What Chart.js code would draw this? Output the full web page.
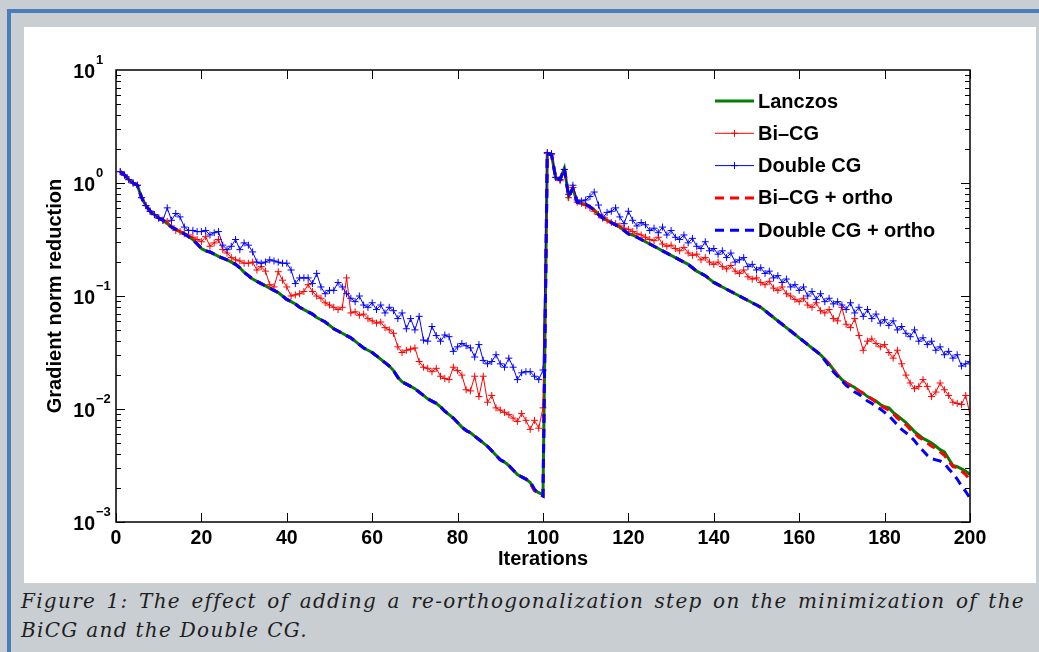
<!DOCTYPE html>
<html>
<head>
<meta charset="utf-8">
<title>Gradient norm reduction</title>
<script src="https://cdn.jsdelivr.net/npm/chart.js@4.4.1/dist/chart.umd.min.js"></script>
<style>
    html, body { margin:0; padding:0; }
    body {
        width:1039px; height:652px; overflow:hidden; position:relative;
        background:#c9ced3;
        font-family:"Liberation Sans", Arial, sans-serif;
    }
    .frame {
        position:absolute; left:7px; top:9px; width:1100px; height:700px;
        border-left:4px solid #4a7ebb; border-top:4px solid #4a7ebb;
    }
    .panel {
        position:absolute; left:24px; top:27px; width:1012px; height:556px;
        background:#fff;
    }
    .caption {
        position:absolute; left:21px; top:587px; width:1004px;
        font-family:"DejaVu Serif", serif; font-style:italic;
        font-size:20px; letter-spacing:1.3px; line-height:29px; color:#1e1e1e;
    }
    .caption .l1 { text-align:justify; text-align-last:justify; white-space:nowrap; }
</style>
</head>
<body>
<div class="frame"></div>
<div class="panel"><canvas id="normChart" width="1012" height="556"></canvas></div>
<div class="caption">
    <div class="l1">Figure 1: The effect of adding a re-orthogonalization step on the minimization of the</div>
    <div>BiCG and the Double CG.</div>
</div>

<script>
/* ==========================
   DATA  (log10 of the gradient norm reduction)
========================== */
const iterations = Array.from({length: 200}, (_, i) => i + 1);
const xTicks = [0, 20, 40, 60, 80, 100, 120, 140, 160, 180, 200];
const yExponents = [-3, -2, -1, 0, 1];

const lanczosLog = [
    0.10, 0.07, 0.03, 0.00, -0.02, -0.13, -0.20, -0.25, -0.28, -0.31,
    -0.33, -0.36, -0.39, -0.41, -0.43, -0.45, -0.475, -0.50, -0.54, -0.58,
    -0.60, -0.61, -0.63, -0.65, -0.665, -0.68, -0.70, -0.72, -0.75, -0.79,
    -0.82, -0.85, -0.87, -0.89, -0.91, -0.93, -0.95, -0.97, -1.00, -1.03,
    -1.05, -1.07, -1.10, -1.12, -1.14, -1.16, -1.19, -1.21, -1.23, -1.26,
    -1.29, -1.31, -1.33, -1.35, -1.37, -1.40, -1.43, -1.46, -1.48, -1.50,
    -1.53, -1.56, -1.59, -1.62, -1.66, -1.72, -1.76, -1.78, -1.80, -1.82,
    -1.85, -1.88, -1.91, -1.93, -1.95, -1.98, -2.02, -2.05, -2.08, -2.12,
    -2.16, -2.19, -2.21, -2.24, -2.27, -2.30, -2.33, -2.37, -2.41, -2.45,
    -2.47, -2.50, -2.54, -2.58, -2.60, -2.62, -2.65, -2.72, -2.74, -2.76,
    0.26, 0.25, 0.04, 0.03, 0.13, -0.12, -0.05, -0.17, -0.18, -0.19,
    -0.21, -0.24, -0.28, -0.31, -0.33, -0.35, -0.37, -0.39, -0.42, -0.45,
    -0.46, -0.48, -0.50, -0.52, -0.54, -0.56, -0.58, -0.60, -0.62, -0.64,
    -0.66, -0.68, -0.70, -0.72, -0.75, -0.78, -0.80, -0.82, -0.85, -0.88,
    -0.90, -0.92, -0.94, -0.96, -0.98, -1.00, -1.02, -1.04, -1.06, -1.08,
    -1.10, -1.13, -1.16, -1.19, -1.22, -1.25, -1.28, -1.31, -1.34, -1.37,
    -1.40, -1.43, -1.46, -1.49, -1.52, -1.56, -1.60, -1.65, -1.70, -1.74,
    -1.77, -1.79, -1.81, -1.84, -1.86, -1.89, -1.91, -1.93, -1.96, -1.98,
    -1.99, -2.03, -2.06, -2.09, -2.12, -2.16, -2.20, -2.23, -2.26, -2.28,
    -2.30, -2.33, -2.36, -2.38, -2.44, -2.50, -2.51, -2.53, -2.55, -2.58
];

const biCgLog = [
    0.10, 0.07, 0.03, 0.00, -0.02, -0.13, -0.20, -0.25, -0.28, -0.31,
    -0.33, -0.34, -0.38, -0.42, -0.43, -0.45, -0.46, -0.48, -0.50, -0.52,
    -0.475, -0.56, -0.53, -0.50, -0.59, -0.62, -0.66, -0.68, -0.69, -0.71,
    -0.71, -0.70, -0.77, -0.74, -0.78, -0.90, -0.92, -0.785, -0.86, -0.92,
    -1.00, -0.99, -0.98, -0.96, -0.90, -0.96, -1.00, -1.02, -1.06, -1.08,
    -1.10, -1.12, -1.10, -0.84, -1.15, -1.14, -1.17, -1.16, -1.20, -1.22,
    -1.24, -1.23, -1.28, -1.30, -1.33, -1.45, -1.50, -1.48, -1.47, -1.46,
    -1.58, -1.63, -1.64, -1.67, -1.64, -1.71, -1.73, -1.74, -1.63, -1.66,
    -1.70, -1.83, -1.84, -1.71, -1.89, -1.71, -1.94, -1.88, -1.99, -2.01,
    -2.03, -2.05, -2.08, -2.11, -2.04, -2.10, -2.18, -2.10, -2.17, -1.99,
    0.26, 0.25, 0.05, 0.02, 0.12, -0.13, -0.04, -0.17, -0.18, -0.20,
    -0.22, -0.25, -0.28, -0.30, -0.33, -0.35, -0.36, -0.38, -0.40, -0.41,
    -0.43, -0.45, -0.46, -0.48, -0.50, -0.51, -0.48, -0.54, -0.56, -0.55,
    -0.58, -0.60, -0.57, -0.62, -0.64, -0.63, -0.68, -0.66, -0.70, -0.72,
    -0.70, -0.74, -0.76, -0.73, -0.78, -0.80, -0.77, -0.83, -0.85, -0.84,
    -0.88, -0.90, -0.87, -0.93, -0.95, -0.92, -0.98, -1.00, -1.03, -1.05,
    -1.02, -1.08, -1.10, -1.06, -1.13, -1.15, -1.12, -1.20, -1.22, -1.10,
    -1.25, -1.28, -1.20, -1.35, -1.48, -1.40, -1.38, -1.42, -1.45, -1.43,
    -1.50, -1.55, -1.48, -1.60, -1.70, -1.77, -1.82, -1.80, -1.74, -1.80,
    -1.89, -1.85, -1.77, -1.83, -1.88, -1.94, -1.95, -1.96, -1.88, -2.05
];

const doubleCgLog = [
    0.10, 0.07, 0.03, 0.00, -0.02, -0.13, -0.20, -0.25, -0.28, -0.31,
    -0.33, -0.22, -0.33, -0.27, -0.30, -0.39, -0.42, -0.42, -0.43, -0.43,
    -0.42, -0.46, -0.44, -0.43, -0.55, -0.59, -0.56, -0.50, -0.59, -0.53,
    -0.55, -0.61, -0.70, -0.71, -0.70, -0.68, -0.69, -0.70, -0.71, -0.71,
    -0.77, -0.89, -0.84, -0.84, -0.84, -0.89, -0.80, -0.92, -0.98, -0.95,
    -0.95, -0.88, -0.92, -0.98, -1.02, -1.05, -1.00, -1.08, -1.10, -1.06,
    -1.12, -1.08, -1.15, -1.10, -1.13, -1.20, -1.15, -1.29, -1.20, -1.30,
    -1.18, -1.39, -1.40, -1.27, -1.35, -1.40, -1.345, -1.36, -1.49, -1.45,
    -1.42, -1.44, -1.46, -1.54, -1.43, -1.57, -1.60, -1.58, -1.52, -1.60,
    -1.63, -1.55, -1.63, -1.74, -1.68, -1.67, -1.67, -1.71, -1.74, -1.655,
    0.27, 0.26, 0.05, 0.03, 0.12, -0.10, -0.02, -0.15, -0.16, -0.15,
    -0.12, -0.08, -0.195, -0.31, -0.26, -0.25, -0.22, -0.30, -0.36, -0.25,
    -0.33, -0.38, -0.35, -0.37, -0.42, -0.40, -0.44, -0.39, -0.46, -0.42,
    -0.48, -0.50, -0.46, -0.53, -0.49, -0.56, -0.58, -0.52, -0.60, -0.58,
    -0.63, -0.60, -0.66, -0.62, -0.70, -0.68, -0.66, -0.74, -0.72, -0.77,
    -0.75, -0.80, -0.78, -0.84, -0.82, -0.88, -0.85, -0.92, -0.90, -0.95,
    -0.92, -1.00, -0.96, -1.03, -0.98, -1.05, -1.02, -1.07, -1.05, -1.08,
    -1.12, -1.06, -1.15, -1.10, -1.18, -1.12, -1.20, -1.16, -1.24, -1.21,
    -1.26, -1.22, -1.30, -1.27, -1.33, -1.36, -1.30, -1.40, -1.37, -1.43,
    -1.40, -1.48, -1.45, -1.52, -1.49, -1.55, -1.52, -1.62, -1.60, -1.58
];

const biCgOrthoLog = [
    0.10, 0.07, 0.03, 0.00, -0.02, -0.13, -0.20, -0.25, -0.28, -0.31,
    -0.33, -0.36, -0.39, -0.41, -0.43, -0.45, -0.475, -0.50, -0.54, -0.58,
    -0.60, -0.61, -0.63, -0.65, -0.665, -0.68, -0.70, -0.72, -0.75, -0.79,
    -0.82, -0.85, -0.87, -0.89, -0.91, -0.93, -0.95, -0.97, -1.00, -1.03,
    -1.05, -1.07, -1.10, -1.12, -1.14, -1.16, -1.19, -1.21, -1.23, -1.26,
    -1.29, -1.31, -1.33, -1.35, -1.37, -1.40, -1.43, -1.46, -1.48, -1.50,
    -1.53, -1.56, -1.59, -1.62, -1.66, -1.72, -1.76, -1.78, -1.80, -1.82,
    -1.85, -1.88, -1.91, -1.93, -1.95, -1.98, -2.02, -2.05, -2.08, -2.12,
    -2.16, -2.19, -2.21, -2.24, -2.27, -2.30, -2.33, -2.37, -2.41, -2.45,
    -2.47, -2.50, -2.54, -2.58, -2.60, -2.62, -2.66, -2.72, -2.75, -2.77,
    0.26, 0.25, 0.04, 0.03, 0.13, -0.12, -0.05, -0.17, -0.18, -0.19,
    -0.21, -0.24, -0.28, -0.31, -0.33, -0.35, -0.37, -0.39, -0.42, -0.45,
    -0.46, -0.48, -0.50, -0.52, -0.54, -0.56, -0.58, -0.60, -0.62, -0.64,
    -0.66, -0.68, -0.70, -0.72, -0.75, -0.78, -0.80, -0.82, -0.85, -0.88,
    -0.90, -0.92, -0.94, -0.96, -0.98, -1.00, -1.02, -1.04, -1.06, -1.08,
    -1.10, -1.13, -1.16, -1.19, -1.22, -1.25, -1.28, -1.31, -1.34, -1.37,
    -1.40, -1.43, -1.46, -1.49, -1.52, -1.56, -1.60, -1.65, -1.70, -1.74,
    -1.77, -1.79, -1.81, -1.84, -1.86, -1.89, -1.91, -1.94, -1.97, -1.99,
    -2.01, -2.04, -2.08, -2.11, -2.14, -2.18, -2.21, -2.25, -2.27, -2.30,
    -2.33, -2.35, -2.38, -2.41, -2.46, -2.51, -2.52, -2.55, -2.58, -2.63
];

const doubleCgOrthoLog = [
    0.10, 0.07, 0.03, 0.00, -0.02, -0.13, -0.20, -0.25, -0.28, -0.31,
    -0.33, -0.36, -0.39, -0.41, -0.43, -0.45, -0.475, -0.50, -0.54, -0.58,
    -0.60, -0.61, -0.63, -0.65, -0.665, -0.68, -0.70, -0.72, -0.75, -0.79,
    -0.82, -0.85, -0.87, -0.89, -0.91, -0.93, -0.95, -0.97, -1.00, -1.03,
    -1.05, -1.07, -1.10, -1.12, -1.14, -1.16, -1.19, -1.21, -1.23, -1.26,
    -1.29, -1.31, -1.33, -1.35, -1.37, -1.40, -1.43, -1.46, -1.48, -1.50,
    -1.53, -1.56, -1.59, -1.62, -1.66, -1.72, -1.76, -1.78, -1.80, -1.82,
    -1.85, -1.88, -1.91, -1.93, -1.95, -1.98, -2.02, -2.05, -2.08, -2.12,
    -2.16, -2.19, -2.21, -2.24, -2.27, -2.30, -2.33, -2.37, -2.41, -2.45,
    -2.47, -2.50, -2.54, -2.58, -2.60, -2.62, -2.64, -2.71, -2.75, -2.77,
    0.26, 0.25, 0.04, 0.03, 0.13, -0.12, -0.05, -0.17, -0.18, -0.19,
    -0.21, -0.24, -0.28, -0.31, -0.33, -0.35, -0.37, -0.39, -0.42, -0.45,
    -0.46, -0.48, -0.50, -0.52, -0.54, -0.56, -0.58, -0.60, -0.62, -0.64,
    -0.66, -0.68, -0.70, -0.72, -0.75, -0.78, -0.80, -0.82, -0.85, -0.88,
    -0.90, -0.92, -0.94, -0.96, -0.98, -1.00, -1.02, -1.04, -1.06, -1.08,
    -1.10, -1.13, -1.16, -1.19, -1.22, -1.25, -1.28, -1.31, -1.34, -1.37,
    -1.40, -1.43, -1.46, -1.49, -1.52, -1.57, -1.62, -1.67, -1.71, -1.75,
    -1.79, -1.82, -1.85, -1.87, -1.90, -1.93, -1.95, -1.98, -2.00, -2.03,
    -2.06, -2.10, -2.14, -2.18, -2.21, -2.24, -2.28, -2.33, -2.37, -2.41,
    -2.44, -2.45, -2.46, -2.48, -2.53, -2.57, -2.62, -2.68, -2.73, -2.79
];

/* ==========================
   HELPERS
========================== */
const toPoints = logs => logs.map((e, i) => ({x: iterations[i], y: Math.pow(10, e)}));
const boldFont = size => ({family: "'Liberation Sans', Arial, sans-serif", size: size, weight: 'bold'});

/* ==========================
   PLUGINS
========================== */
// box + inward ticks, matlab style
const axesBox = {
    id: 'axesBox',
    afterDatasetsDraw(chart){
        const {ctx, chartArea: a, scales: {x, y}} = chart;
        ctx.save();
        ctx.strokeStyle = '#000';
        ctx.lineWidth = 1;
        ctx.beginPath();
        xTicks.forEach(t => {
            const px = Math.round(x.getPixelForValue(t)) + 0.5;
            ctx.moveTo(px, a.bottom); ctx.lineTo(px, a.bottom - 9);
            ctx.moveTo(px, a.top); ctx.lineTo(px, a.top + 9);
        });
        for(let d = -3; d <= 0; d++){
            for(let k = 1; k <= 9; k++){
                const len = k === 1 ? 9 : 5;
                const py = Math.round(y.getPixelForValue(k * Math.pow(10, d))) + 0.5;
                ctx.moveTo(a.left, py); ctx.lineTo(a.left + len, py);
                ctx.moveTo(a.right, py); ctx.lineTo(a.right - len, py);
            }
        }
        ctx.stroke();
        ctx.lineWidth = 1.5;
        ctx.strokeRect(a.left, a.top, a.right - a.left, a.bottom - a.top);
        ctx.restore();
    }
};

// y tick labels as 10^n
const powerLabels = {
    id: 'powerLabels',
    afterDraw(chart){
        const {ctx, chartArea: a, scales: {y}} = chart;
        ctx.save();
        ctx.fillStyle = '#000';
        yExponents.forEach(e => {
            const py = y.getPixelForValue(Math.pow(10, e));
            ctx.font = "bold 19.5px 'Liberation Sans', Arial, sans-serif";
            ctx.textAlign = 'right';
            ctx.textBaseline = 'alphabetic';
            ctx.fillText('10', a.left - 21, py + 8);
            ctx.font = "bold 13px 'Liberation Sans', Arial, sans-serif";
            ctx.textAlign = 'left';
            ctx.fillText(e < 0 ? '\u2212' + (-e) : String(e), a.left - 20, py - 6);
        });
        ctx.restore();
    }
};

// legend inside the axes, top right
const insideLegend = {
    id: 'insideLegend',
    afterDraw(chart){
        const {ctx, chartArea: a} = chart;
        const x0 = a.left + 599, x1 = a.left + 638;
        ctx.save();
        chart.data.datasets.forEach((ds, i) => {
            const py = a.top + 31 + i * 32.3;
            ctx.strokeStyle = ds.borderColor;
            ctx.lineWidth = ds.borderWidth;
            ctx.setLineDash(ds.borderDash || []);
            ctx.beginPath(); ctx.moveTo(x0, py); ctx.lineTo(x1, py); ctx.stroke();
            ctx.setLineDash([]);
            if(ds.pointRadius > 0){
                const mx = (x0 + x1) / 2;
                ctx.lineWidth = 1;
                ctx.beginPath();
                ctx.moveTo(mx - 3.5, py); ctx.lineTo(mx + 3.5, py);
                ctx.moveTo(mx, py - 3.5); ctx.lineTo(mx, py + 3.5);
                ctx.stroke();
            }
            ctx.fillStyle = '#000';
            ctx.font = "bold 20px 'Liberation Sans', Arial, sans-serif";
            ctx.textAlign = 'left';
            ctx.textBaseline = 'middle';
            ctx.fillText(ds.label, x1 + 4, py + 1);
        });
        ctx.restore();
    }
};

/* ==========================
   CHART
========================== */
const ctx = document.getElementById('normChart').getContext('2d');
new Chart(ctx, {
    type: 'line',
    data: {
        datasets: [
            {label: 'Lanczos', data: toPoints(lanczosLog), borderColor: '#008000', borderWidth: 3,
             pointRadius: 0, order: 5},
            {label: 'Bi\u2013CG', data: toPoints(biCgLog), borderColor: '#ff0000', borderWidth: 1,
             pointStyle: 'cross', pointRadius: 3.5, pointBorderWidth: 1, pointBorderColor: '#ff0000', order: 4},
            {label: 'Double CG', data: toPoints(doubleCgLog), borderColor: '#0000ff', borderWidth: 1,
             pointStyle: 'cross', pointRadius: 3.5, pointBorderWidth: 1, pointBorderColor: '#0000ff', order: 3},
            {label: 'Bi\u2013CG + ortho', data: toPoints(biCgOrthoLog), borderColor: '#ff0000', borderWidth: 3,
             borderDash: [9, 6], pointRadius: 0, order: 2},
            {label: 'Double CG + ortho', data: toPoints(doubleCgOrthoLog), borderColor: '#0000ff', borderWidth: 3,
             borderDash: [9, 6], pointRadius: 0, order: 1}
        ]
    },
    options: {
        responsive: false,
        animation: false,
        layout: {padding: {top: 43, right: 66, left: 0, bottom: 0}},
        elements: {line: {tension: 0}},
        plugins: {legend: {display: false}, tooltip: {enabled: false}},
        scales: {
            x: {
                type: 'linear', min: 0, max: 200,
                afterFit: s => { s.height = 61; },
                grid: {display: false, drawTicks: false},
                border: {display: false},
                ticks: {stepSize: 20, padding: 5, color: '#000', font: boldFont(19.5), maxRotation: 0, autoSkip: false},
                title: {display: true, text: 'Iterations', color: '#000', font: boldFont(20), padding: {top: 0, bottom: 12}}
            },
            y: {
                type: 'logarithmic', min: 0.001, max: 10,
                afterFit: s => { s.width = 92; },
                grid: {display: false, drawTicks: false},
                border: {display: false},
                ticks: {display: false},
                title: {display: true, text: 'Gradient norm reduction', color: '#000', font: boldFont(20), padding: {top: 19, bottom: 0}}
            }
        }
    },
    plugins: [axesBox, powerLabels, insideLegend]
});
</script>
</body>
</html>
